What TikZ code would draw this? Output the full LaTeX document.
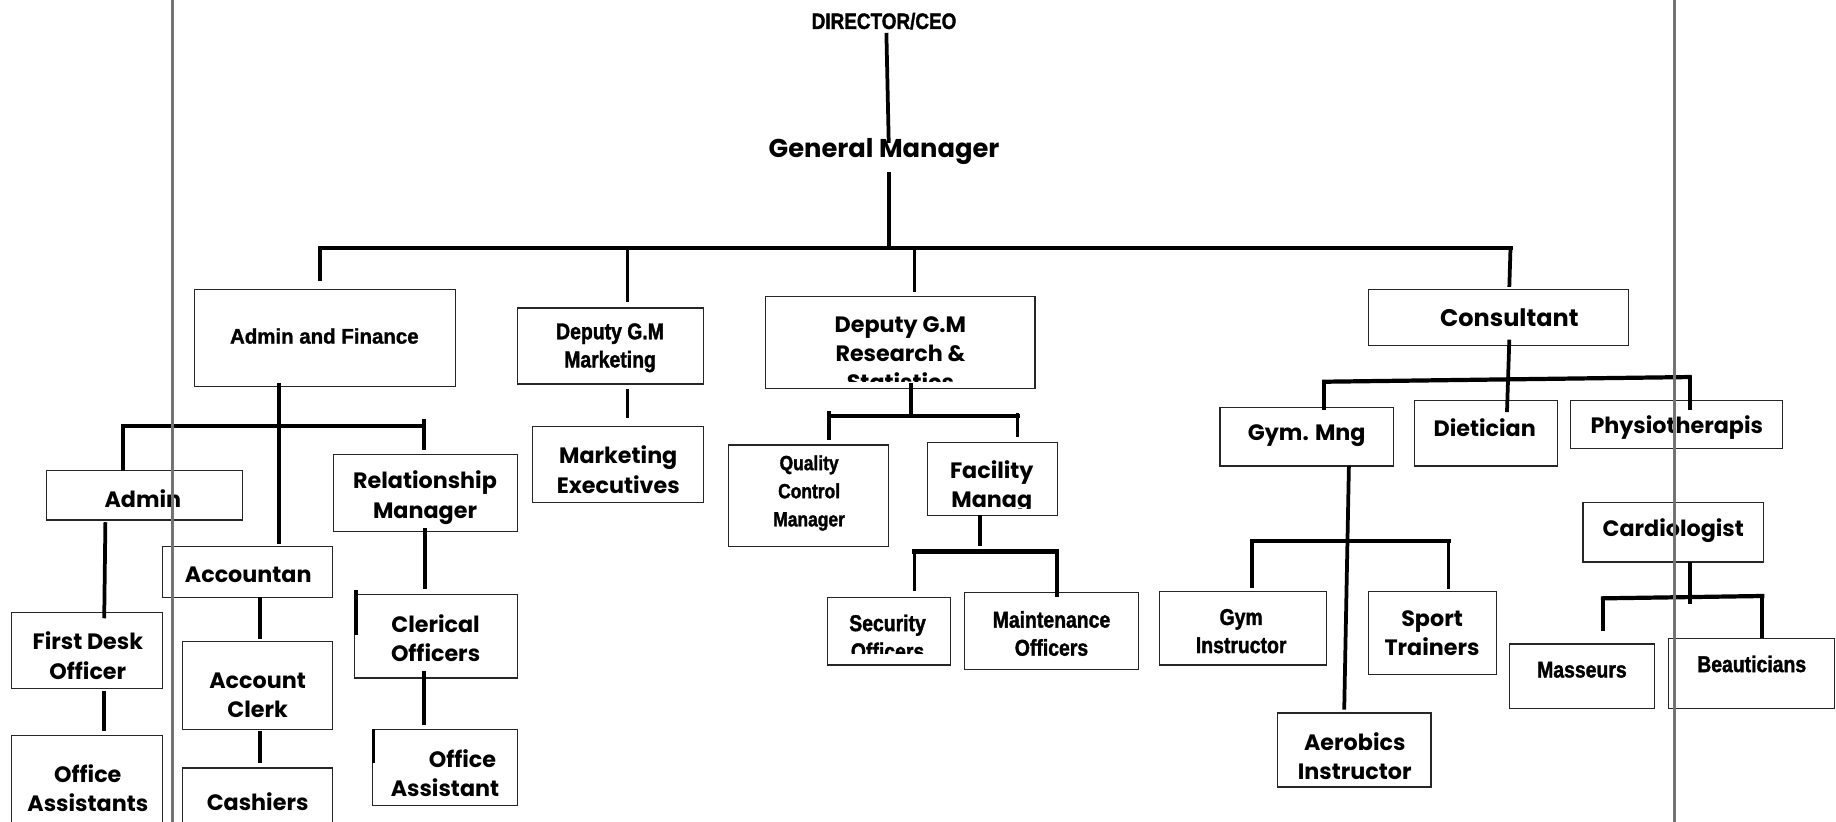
\documentclass[tikz,border=0pt]{standalone}
\usepackage{fontspec}
\usetikzlibrary{fit}
\newfontfamily\gothic{Poppins}
\def\nrfont#1{\fontsize{#1}{24}\selectfont\font\myNarrowFace="Liberation Sans/B:extend=0.85;embolden=1.6" at #1pt\relax\myNarrowFace}
\def\afont#1{\fontsize{#1}{24}\selectfont\font\myArialFace="Liberation Sans/B:extend=0.97;embolden=1.3" at #1pt\relax\myArialFace}
\begin{document}
\begin{tikzpicture}[x=1pt,y=-1pt,
  box/.style={draw=black!85, line width=1.1pt, inner sep=0pt},
  conn/.style={line width=3.2pt, line cap=butt},
  bus/.style={line width=3.6pt, line cap=rect},
  gt/.style={font=\gothic\bfseries\fontsize{#1}{25}\selectfont, align=center, inner sep=0pt},
  gt/.default=19,
  nr/.style={font=\nrfont{#1}, align=center, inner sep=0pt},
  nr/.default=19.5,
  guide/.style={draw=black!55, line width=2.6pt}]
\useasboundingbox (0,0) rectangle (1568,702);

% ---------- boxes ----------
\node[box, fit={(166,247)(389,330)}] (bAF) {};
\node[box, fit={(442,263)(601,328)}] (bDM) {};
\node[box, fit={(654,253)(884,332)}] (bDR) {};
\node[box, fit={(1169,247)(1391,295)}] (bCon) {};
\node[box, fit={(455,364)(601,429)}] (bME) {};
\node[box, fit={(40,402)(207,444)}] (bAdm) {};
\node[box, fit={(285,388)(442,454)}] (bRM) {};
\node[box, fit={(139,467)(284,510)}] (bAcc) {};
\node[box, fit={(10,523)(139,588)}] (bFD) {};
\node[box, fit={(156,548)(284,623)}] (bAC) {};
\node[box, fit={(303,508)(442,579)}] (bCO) {};
\node[box, fit={(10,628)(139,712)}] (bOAs) {};
\node[box, fit={(156,656)(284,712)}] (bCash) {};
\node[box, fit={(318,623)(442,688)}] (bOA) {};
\node[box, fit={(622,380)(759,467)}] (bQC) {};
\node[box, fit={(792,378)(903,440)}] (bFM) {};
\node[box, fit={(707,510)(812,568)}] (bSec) {};
\node[box, fit={(824,506)(972,572)}] (bMO) {};
\node[box, fit={(1042,348)(1190,398)}] (bGM) {};
\node[box, fit={(1208,342)(1330,398)}] (bDiet) {};
\node[box, fit={(1341,342)(1522,383)}] (bPhy) {};
\node[box, fit={(1352,429)(1506,480)}] (bCard) {};
\node[box, fit={(990,505)(1133,568)}] (bGI) {};
\node[box, fit={(1169,505)(1278,576)}] (bST) {};
\node[box, fit={(1091,609)(1222,672)}] (bAI) {};
\node[box, fit={(1289,550)(1413,605)}] (bMas) {};
\node[box, fit={(1425,545)(1567,605)}] (bBea) {};

% ---------- texts ----------
\node[nr=19] (tCEO) at (755,18) {DIRECTOR/CEO};
\node[gt=22] (tGM) at (755,129) {General Manager};
\node[font=\afont{18}, inner sep=0pt] (tAF) at (277,287) {Admin and Finance};
\node[nr] (tDM) at (521,297) {Deputy G.M\\Marketing};
\begin{scope}
  \clip (654,253) rectangle (884,326);
  \node[gt] (tDR) at (769,302) {Deputy G.M\\Research \&\\Statistics};
\end{scope}
\node[gt=20.5] (tCon) at (1289,271) {Consultant};
\node[gt] (tME) at (528,401) {Marketing\\Executives};
\node[gt] (tAdm) at (122,426) {Admin};
\node[gt] (tRM) at (363,425) {Relationship\\Manager};
\node[gt] (tAcc) at (212,491) {Accountan};
\node[gt] (tFD) at (75,560) {First Desk\\Officer};
\node[gt] (tAC) at (220,594) {Account\\Clerk};
\node[gt] (tCO) at (372,545) {Clerical\\Officers};
\node[gt] (tOAs) at (75,673) {Office\\Assistants};
\node[gt] (tCash) at (220,685) {Cashiers};
\node[gt] (tOA) at (380,660) {\hspace*{30pt}Office\\Assistant};
\node[nr=17.5] (tQC) at (691,421) {Quality\\Control\\Manager};
\begin{scope}
  \clip (792,378) rectangle (903,434);
  \node[gt] (tFM) at (847,416) {Facility\\Manag};
\end{scope}
\begin{scope}
  \clip (707,510) rectangle (812,558);
  \node[nr] (tSec) at (758,544) {Security\\Officers};
\end{scope}
\node[nr] (tMO) at (898,541) {Maintenance\\Officers};
\node[gt] (tGMng) at (1116,372) {Gym. Mng};
\node[gt] (tDiet) at (1268,365) {Dietician};
\node[gt] (tPhy) at (1432,365) {Physiotherapis};
\node[gt] (tCard) at (1429,453) {Cardiologist};
\node[nr] (tGI) at (1060,539) {Gym\\Instructor};
\node[gt] (tST) at (1223,541) {Sport\\Trainers};
\node[gt] (tAI) at (1157,646) {Aerobics\\Instructor};
\node[nr] (tMas) at (1351,572) {Masseurs};
\node[nr] (tBea) at (1496,567) {Beauticians};

% ---------- junction coordinates ----------
\coordinate (c1a) at (757,28);   \coordinate (c1b) at (759,122);
\coordinate (c2a) at (759,147);  \coordinate (c2b) at (759,212);
\coordinate (busL) at (273,212); \coordinate (busR) at (1290,212);
\coordinate (dAF) at (273,240);
\coordinate (jDM) at (536,210);  \coordinate (dDM) at (536,258);
\coordinate (jDR) at (781,212);  \coordinate (dDR) at (781,249);
\coordinate (dCon) at (1289,245);
% admin & finance
\coordinate (af1) at (238,327);  \coordinate (af2) at (238,465);
\coordinate (afL) at (105,364);  \coordinate (afR) at (362,364);
\coordinate (afLd) at (105,402); \coordinate (afRt) at (362,358); \coordinate (afRd) at (362,384);
\coordinate (ad1) at (90,446);   \coordinate (ad2) at (89,528);
\coordinate (fd1) at (89,590);   \coordinate (fd2) at (89,624);
\coordinate (ac1) at (222,510);  \coordinate (ac2) at (222,546);
\coordinate (ck1) at (222,624);  \coordinate (ck2) at (222,652);
\coordinate (rm1) at (363,451);  \coordinate (rm2) at (363,503);
\coordinate (ct1) at (304,504);  \coordinate (ct2) at (304,542);
\coordinate (co1) at (362,573);  \coordinate (co2) at (362,619);
\coordinate (ot1) at (319,623);  \coordinate (ot2) at (319,652);
% marketing
\coordinate (mk1) at (536,332);  \coordinate (mk2) at (536,357);
% research
\coordinate (rs1) at (778,327);  \coordinate (rs2) at (778,355);
\coordinate (rsL) at (708,355);  \coordinate (rsR) at (869,355);
\coordinate (rsLt) at (708,351); \coordinate (rsLd) at (708,376);
\coordinate (rsRt) at (869,353); \coordinate (rsRd) at (869,373);
\coordinate (fm1) at (837,440);  \coordinate (fm2) at (837,466);
\coordinate (fmL) at (781,471);  \coordinate (fmR) at (903,471);
\coordinate (fmLd) at (781,505); \coordinate (fmRd) at (903,510);
% consultant
\coordinate (cn1) at (1289,290); \coordinate (cn2) at (1287,352);
\coordinate (cnL) at (1131,326); \coordinate (cnR) at (1443,322);
\coordinate (cnLd) at (1131,350); \coordinate (cnRd) at (1443,350);
\coordinate (gm1) at (1152,398); \coordinate (gm2) at (1148,606);
\coordinate (gmL) at (1069,462); \coordinate (gmR) at (1237,462);
\coordinate (gmLd) at (1069,502); \coordinate (gmRd) at (1237,503);
\coordinate (cd1) at (1443,480); \coordinate (cd2) at (1443,516);
\coordinate (cdL) at (1369,511); \coordinate (cdR) at (1505,509);
\coordinate (cdLd) at (1369,539); \coordinate (cdRd) at (1505,545);

% ---------- connectors ----------
\draw[conn] (c1a) -- (c1b);
\draw[conn] (c2a) -- (c2b);
\draw[bus] (busL) -- (busR);
\draw[conn] (busL) -- (dAF);
\draw[conn] (jDM) -- (dDM);
\draw[conn] (jDR) -- (dDR);
\draw[conn] (busR) -- (dCon);

\draw[conn] (af1) -- (af2);
\draw[bus] (afL) -- (afR);
\draw[conn] (afL) -- (afLd);
\draw[conn] (afRt) -- (afRd);
\draw[conn] (ad1) -- (ad2);
\draw[conn] (fd1) -- (fd2);
\draw[conn] (ac1) -- (ac2);
\draw[conn] (ck1) -- (ck2);
\draw[conn] (rm1) -- (rm2);
\draw[conn] (ct1) -- (ct2);
\draw[conn] (co1) -- (co2);
\draw[conn] (ot1) -- (ot2);

\draw[conn] (mk1) -- (mk2);

\draw[conn] (rs1) -- (rs2);
\draw[bus] (rsL) -- (rsR);
\draw[conn] (rsLt) -- (rsLd);
\draw[conn] (rsRt) -- (rsRd);
\draw[conn] (fm1) -- (fm2);
\draw[bus] (fmL) -- (fmR);
\draw[conn] (fmL) -- (fmLd);
\draw[conn] (fmR) -- (fmRd);

\draw[conn] (cn1) -- (cn2);
\draw[bus] (cnL) -- (cnR);
\draw[conn] (cnL) -- (cnLd);
\draw[conn] (cnR) -- (cnRd);
\draw[conn] (gm1) -- (gm2);
\draw[bus] (gmL) -- (gmR);
\draw[conn] (gmL) -- (gmLd);
\draw[conn] (gmR) -- (gmRd);
\draw[conn] (cd1) -- (cd2);
\draw[bus] (cdL) -- (cdR);
\draw[conn] (cdL) -- (cdLd);
\draw[conn] (cdR) -- (cdRd);

% ---------- page guide lines ----------
\coordinate (g1t) at (147,0);  \coordinate (g1b) at (147,702);
\coordinate (g2t) at (1430,0); \coordinate (g2b) at (1430,702);
\draw[guide] (g1t) -- (g1b);
\draw[guide] (g2t) -- (g2b);
\end{tikzpicture}
\end{document}
